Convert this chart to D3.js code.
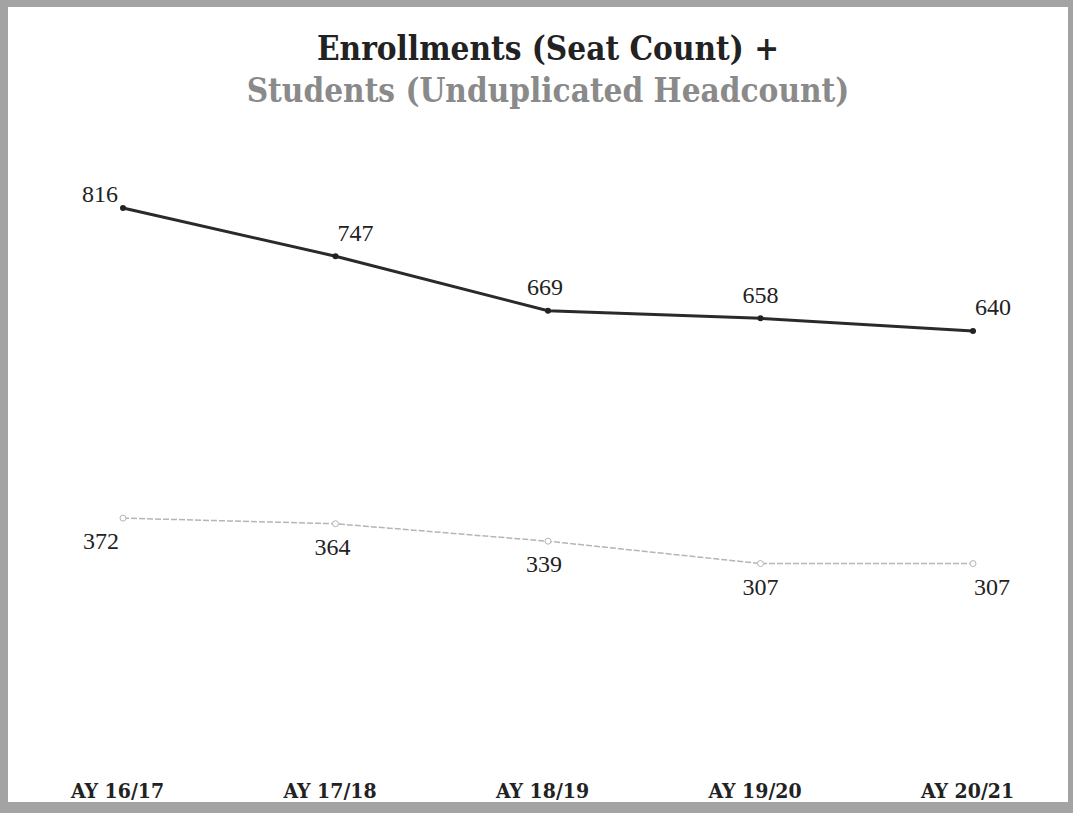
<!DOCTYPE html>
<html>
<head>
<meta charset="utf-8">
<script src="https://cdn.jsdelivr.net/npm/d3@7"></script>
<style>
  body { margin: 0; background: #fff; }
  svg { display: block; }
</style>
</head>
<body>
<svg id="canvas"></svg>
<script>
// Chart data.
var years = ['AY 16/17', 'AY 17/18', 'AY 18/19', 'AY 19/20', 'AY 20/21'];
var enrollments = [816, 747, 669, 658, 640];
var students = [372, 364, 339, 307, 307];

// Canvas dimensions.
var canvasWidth = 1073;
var canvasHeight = 813;

var svg = d3.select('#canvas')
            .attr('width', canvasWidth)
            .attr('height', canvasHeight);

// Scanned frame round the chart (top, left, bottom, right bands).
var bands = [[0, 0, canvasWidth, 7], [0, 0, 8, canvasHeight],
             [0, 802, canvasWidth, 11], [1068, 0, 5, canvasHeight]];
svg.selectAll('.band')
   .data(bands)
   .enter()
   .append('rect')
   .attr('x', function(d) { return d[0]; })
   .attr('y', function(d) { return d[1]; })
   .attr('width', function(d) { return d[2]; })
   .attr('height', function(d) { return d[3]; })
   .attr('fill', '#a3a3a3');

// Title, two lines.
var titleFont = 'DejaVu Serif Condensed, DejaVu Serif';

svg.append('text')
   .attr('x', 548).attr('y', 60)
   .attr('text-anchor', 'middle')
   .style('font-family', titleFont)
   .style('font-weight', 'bold')
   .style('font-size', '33px')
   .style('fill', '#222')
   .text('Enrollments (Seat Count) +');

svg.append('text')
   .attr('x', 548).attr('y', 102)
   .attr('text-anchor', 'middle')
   .style('font-family', titleFont)
   .style('font-weight', 'bold')
   .style('font-size', '33px')
   .style('fill', '#8a8a8a')
   .text('Students (Unduplicated Headcount)');

// Scales.
var xScale = d3.scalePoint()
               .domain(years)
               .range([123, 973]);

var yScale = d3.scaleLinear()
               .domain([0, 816])
               .range([778, 208]);

// Category labels along the bottom.
var xAxis = d3.axisBottom(xScale).tickSize(0).tickPadding(0);
var axisG = svg.append('g')
               .attr('transform', 'translate(0,780)')
               .call(xAxis);
axisG.select('.domain').remove();
axisG.selectAll('text')
     .attr('x', -6)
     .attr('dy', '18px')
     .style('font-family', titleFont)
     .style('font-weight', 'bold')
     .style('font-size', '21px')
     .style('fill', '#222');

var line = d3.line()
             .x(function(d, i) { return xScale(years[i]); })
             .y(function(d) { return yScale(d); });

// Enrollments line.
svg.append('path')
   .datum(enrollments)
   .attr('d', line)
   .attr('fill', 'none')
   .attr('stroke', '#2a2a2a')
   .attr('stroke-width', 3);

svg.selectAll('.dotE')
   .data(enrollments)
   .enter()
   .append('circle')
   .attr('cx', function(d, i) { return xScale(years[i]); })
   .attr('cy', function(d) { return yScale(d); })
   .attr('r', 3)
   .attr('fill', '#222');

// Students line.
svg.append('path')
   .datum(students)
   .attr('d', line)
   .attr('fill', 'none')
   .attr('stroke', '#b5b5b5')
   .attr('stroke-width', 1.5)
   .attr('stroke-dasharray', '6,2');

svg.selectAll('.dotS')
   .data(students)
   .enter()
   .append('circle')
   .attr('cx', function(d, i) { return xScale(years[i]); })
   .attr('cy', function(d) { return yScale(d); })
   .attr('r', 3)
   .attr('fill', '#fff')
   .attr('stroke', '#b5b5b5');

// Value labels.
var upperDx = [-23, 20, -3, 0, 20];
var upperDy = [-6, -15, -16, -15, -16];
var lowerDx = [-22, -3, -4, 0, 19];

var labelFont = 'Liberation Serif, DejaVu Serif';

svg.selectAll('.labE')
   .data(enrollments)
   .enter()
   .append('text')
   .attr('x', function(d, i) { return xScale(years[i]) + upperDx[i]; })
   .attr('y', function(d, i) { return yScale(d) + upperDy[i]; })
   .attr('text-anchor', 'middle')
   .style('font-family', labelFont)
   .style('font-size', '24px')
   .style('fill', '#222')
   .text(function(d) { return d; });

svg.selectAll('.labS')
   .data(students)
   .enter()
   .append('text')
   .attr('x', function(d, i) { return xScale(years[i]) + lowerDx[i]; })
   .attr('y', function(d) { return yScale(d) + 31; })
   .attr('text-anchor', 'middle')
   .style('font-family', labelFont)
   .style('font-size', '24px')
   .style('fill', '#222')
   .text(function(d) { return d; });
</script>
</body>
</html>
